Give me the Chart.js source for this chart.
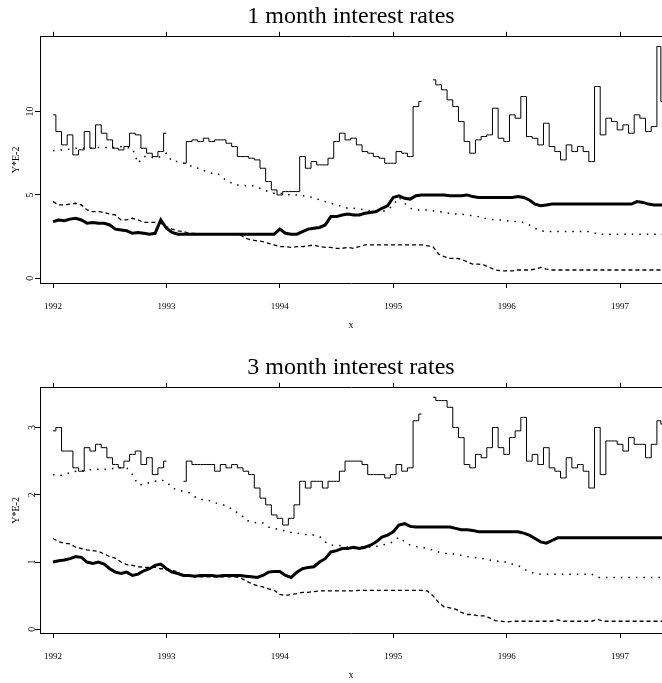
<!DOCTYPE html>
<html>
<head>
<meta charset="utf-8">
<script src="https://cdn.jsdelivr.net/npm/chart.js@4.4.0/dist/chart.umd.min.js"></script>
<style>
html, body { margin: 0; padding: 0; background: #fff; }
#wrap { position: relative; width: 662px; height: 683px; }
#chartOne { position: absolute; left: 0; top: 0; }
#chartThree { position: absolute; left: 0; top: 341px; }
</style>
</head>
<body>
<div id="wrap">
  <canvas id="chartOne" width="662" height="333"></canvas>
  <canvas id="chartThree" width="662" height="342"></canvas>
</div>
<script>
// dates in decimal years
var dates = [
  1992.00,1992.05,1992.10,1992.15,1992.20,1992.25,1992.30,1992.35,1992.40,1992.45,1992.50,1992.55,1992.60,1992.65,1992.70,1992.75,1992.80,1992.85,1992.90,1992.95,
  1993.00,1993.05,1993.10,1993.15,1993.20,1993.25,1993.30,1993.35,1993.40,1993.45,1993.50,1993.55,1993.60,1993.65,1993.70,1993.75,1993.80,1993.85,1993.90,1993.95,
  1994.00,1994.05,1994.10,1994.15,1994.20,1994.25,1994.30,1994.35,1994.40,1994.45,1994.50,1994.55,1994.60,1994.65,1994.70,1994.75,1994.80,1994.85,1994.90,1994.95,
  1995.00,1995.05,1995.10,1995.15,1995.20,1995.25,1995.30,1995.35,1995.40,1995.45,1995.50,1995.55,1995.60,1995.65,1995.70,1995.75,1995.80,1995.85,1995.90,1995.95,
  1996.00,1996.05,1996.10,1996.15,1996.20,1996.25,1996.30,1996.35,1996.40,1996.45,1996.50,1996.55,1996.60,1996.65,1996.70,1996.75,1996.80,1996.85,1996.90,1996.95,
  1997.00,1997.05,1997.10,1997.15,1997.20,1997.25,1997.30,1997.35,1997.37
];
var years = [1992, 1993, 1994, 1995, 1996, 1997];
var ticksOne = [0, 5, 10];
var ticksThree = [0, 1, 2, 3];

// 1 month
var oneThin = [
  9.8,8.8,8.0,8.6,7.4,7.7,8.8,7.8,9.2,8.7,8.3,7.8,7.7,7.9,8.7,8.6,7.8,7.5,7.3,7.6,
  8.7,null,null,6.9,8.2,8.3,8.2,8.4,8.2,8.3,8.3,8.1,7.9,7.3,7.3,7.2,7.1,6.6,5.8,5.3,
  5.0,5.2,5.2,5.2,7.3,6.6,7.0,6.8,6.8,7.2,8.2,8.7,8.3,8.4,8.0,7.6,7.5,7.3,7.2,6.9,
  6.9,7.6,7.5,7.3,10.3,10.6,null,11.9,11.6,11.3,10.7,10.3,9.4,8.2,7.5,8.3,8.5,8.6,10.2,8.4,
  8.2,9.8,9.6,10.9,8.5,8.4,8.0,9.3,7.9,7.6,7.1,8.0,7.6,7.9,7.6,7.0,11.5,8.6,9.6,9.4,
  8.9,9.2,8.7,9.8,9.6,8.8,9.1,13.9,10.6
];
var oneThick = [
  3.4,3.5,3.45,3.55,3.6,3.5,3.3,3.35,3.3,3.3,3.2,2.95,2.9,2.85,2.7,2.75,2.7,2.65,2.7,3.5,
  3.0,2.75,2.65,2.65,2.65,2.65,2.65,2.65,2.65,2.65,2.65,2.65,2.65,2.65,2.65,2.65,2.65,2.65,2.65,2.65,
  2.95,2.7,2.65,2.65,2.8,2.95,3.0,3.05,3.2,3.7,3.7,3.8,3.85,3.8,3.8,3.9,3.95,4.0,4.2,4.35,
  4.85,4.95,4.8,4.75,4.95,5.0,5.0,5.0,5.0,5.0,4.95,4.95,4.95,5.0,4.9,4.85,4.85,4.85,4.85,4.85,
  4.85,4.85,4.9,4.85,4.7,4.45,4.35,4.4,4.45,4.45,4.45,4.45,4.45,4.45,4.45,4.45,4.45,4.45,4.45,4.45,
  4.45,4.45,4.45,4.6,4.55,4.45,4.4,4.4,4.4
];
var oneDot = [
  7.65,7.7,7.7,7.75,7.8,7.8,7.8,7.8,7.85,7.85,7.85,7.85,7.9,7.85,7.8,6.9,7.3,7.3,7.2,7.3,
  7.5,7.0,7.0,6.9,6.8,6.6,6.6,6.4,6.3,6.3,6.0,5.8,5.6,5.6,5.55,5.55,5.5,5.3,5.2,5.1,
  5.1,5.05,5.0,5.0,4.95,4.9,4.85,4.7,4.6,4.5,4.4,4.3,4.2,4.2,4.15,4.1,4.05,4.0,4.0,4.1,
  4.4,4.85,4.5,4.2,4.1,4.1,4.1,4.05,4.0,3.95,3.9,3.85,3.85,3.8,3.75,3.7,3.6,3.55,3.5,3.5,
  3.45,3.4,3.4,3.35,3.2,3.0,2.85,2.8,2.8,2.8,2.8,2.8,2.8,2.8,2.8,2.8,2.65,2.65,2.65,2.65,
  2.65,2.65,2.65,2.65,2.65,2.65,2.65,2.65,2.65
];
var oneDash = [
  4.6,4.4,4.4,4.45,4.5,4.4,4.1,4.0,4.0,3.95,3.85,3.8,3.5,3.5,3.6,3.5,3.35,3.35,3.35,3.3,
  3.1,2.95,2.85,2.8,2.7,2.7,2.65,2.65,2.65,2.65,2.65,2.65,2.65,2.6,2.4,2.3,2.25,2.2,2.1,2.0,
  1.9,1.9,1.85,1.9,1.9,1.95,2.0,1.9,1.85,1.85,1.8,1.8,1.85,1.8,1.9,2.0,2.0,2.0,2.0,2.0,
  2.0,2.0,2.0,2.0,2.0,2.0,1.95,1.9,1.45,1.3,1.2,1.2,1.15,1.0,0.85,0.85,0.8,0.65,0.5,0.45,
  0.45,0.45,0.5,0.5,0.5,0.55,0.65,0.55,0.5,0.5,0.5,0.5,0.5,0.5,0.5,0.5,0.5,0.5,0.5,0.5,
  0.5,0.5,0.5,0.5,0.5,0.5,0.5,0.5,0.5
];

// 3 month
var threeThin = [
  2.95,3.0,2.65,2.65,2.4,2.35,2.7,2.65,2.75,2.7,2.55,2.45,2.4,2.5,2.6,2.65,2.45,2.55,2.3,2.4,
  2.5,null,null,2.2,2.5,2.45,2.45,2.45,2.45,2.35,2.45,2.4,2.45,2.4,2.35,2.3,2.1,1.95,1.85,1.7,
  1.65,1.55,1.65,1.85,2.2,2.1,2.2,2.2,2.1,2.2,2.2,2.35,2.5,2.5,2.5,2.45,2.3,2.3,2.3,2.25,
  2.3,2.45,2.35,2.4,3.1,3.2,null,3.45,3.4,3.4,3.3,3.0,2.85,2.45,2.4,2.6,2.55,2.7,3.0,2.7,
  2.6,2.85,2.95,3.15,2.5,2.6,2.45,2.7,2.4,2.35,2.25,2.55,2.4,2.45,2.35,2.1,3.0,2.3,2.8,2.8,
  2.75,2.65,2.85,2.75,2.75,2.55,2.75,3.1,3.05
];
var threeThick = [
  1.0,1.02,1.03,1.05,1.08,1.07,1.0,0.98,1.0,0.97,0.9,0.85,0.83,0.85,0.8,0.82,0.87,0.9,0.95,0.97,
  0.9,0.85,0.83,0.8,0.8,0.79,0.8,0.8,0.8,0.79,0.8,0.8,0.8,0.8,0.79,0.78,0.77,0.8,0.85,0.86,
  0.86,0.8,0.77,0.85,0.9,0.92,0.93,1.0,1.05,1.15,1.17,1.2,1.2,1.22,1.2,1.22,1.25,1.3,1.37,1.4,
  1.45,1.55,1.57,1.53,1.52,1.52,1.52,1.52,1.52,1.52,1.52,1.5,1.48,1.48,1.47,1.45,1.45,1.45,1.45,1.45,
  1.45,1.45,1.45,1.43,1.4,1.35,1.3,1.28,1.32,1.36,1.36,1.36,1.36,1.36,1.36,1.36,1.36,1.36,1.36,1.36,
  1.36,1.36,1.36,1.36,1.36,1.36,1.36,1.36,1.36
];
var threeDot = [
  2.3,2.28,2.3,2.33,2.35,2.35,2.37,2.37,2.38,2.38,2.38,2.4,2.4,2.4,2.3,2.15,2.15,2.18,2.2,2.22,
  2.2,2.1,2.07,2.05,2.03,1.97,1.93,1.93,1.9,1.87,1.85,1.82,1.75,1.72,1.62,1.6,1.58,1.58,1.52,1.5,
  1.48,1.46,1.44,1.43,1.42,1.4,1.4,1.38,1.3,1.25,1.25,1.24,1.22,1.2,1.22,1.22,1.22,1.23,1.25,1.27,
  1.3,1.37,1.3,1.25,1.23,1.22,1.2,1.18,1.15,1.13,1.12,1.12,1.1,1.08,1.07,1.06,1.05,1.03,1.02,1.0,
  1.0,0.97,0.95,0.9,0.85,0.83,0.82,0.82,0.82,0.82,0.82,0.82,0.82,0.82,0.82,0.82,0.77,0.77,0.77,0.77,
  0.77,0.77,0.77,0.77,0.77,0.77,0.77,0.77,0.77
];
var threeDash = [
  1.35,1.3,1.28,1.27,1.22,1.2,1.18,1.17,1.16,1.12,1.08,1.06,1.0,0.96,0.95,0.93,0.92,0.92,0.92,0.9,
  0.9,0.88,0.85,0.8,0.8,0.78,0.78,0.78,0.78,0.78,0.78,0.78,0.78,0.77,0.72,0.68,0.65,0.63,0.6,0.58,
  0.52,0.5,0.52,0.53,0.55,0.55,0.56,0.57,0.57,0.57,0.57,0.57,0.57,0.57,0.58,0.58,0.58,0.58,0.58,0.58,
  0.58,0.58,0.58,0.58,0.58,0.58,0.57,0.5,0.4,0.33,0.32,0.3,0.25,0.22,0.22,0.2,0.2,0.17,0.13,0.12,
  0.11,0.12,0.12,0.12,0.12,0.12,0.12,0.12,0.12,0.14,0.12,0.12,0.12,0.12,0.12,0.12,0.15,0.12,0.12,0.12,
  0.12,0.12,0.12,0.12,0.12,0.12,0.12,0.12,0.12
];

var serif = 'Liberation Serif';

function points(values) {
  return dates.map(function (d, i) { return { x: d, y: values[i] }; });
}

function setTicks(list) {
  return function (scale) {
    scale.ticks = list.map(function (v) { return { value: v }; });
  };
}

function drawChart(id, title, yMin, yMax, yTicks, thin, thick, dot, dash, padTop) {
  new Chart(document.getElementById(id), {
    type: 'line',
    data: {
      datasets: [
        { data: points(thin), borderWidth: 1, stepped: 'middle' },
        { data: points(thick), borderWidth: 3 },
        { data: points(dot), borderWidth: 1.5, borderDash: [1.5, 6] },
        { data: points(dash), borderWidth: 1.3, borderDash: [4, 3] }
      ]
    },
    options: {
      responsive: false,
      animation: false,
      layout: { padding: { top: padTop, left: 0, right: 0, bottom: 0 } },
      elements: {
        point: { radius: 0 },
        line: { tension: 0, borderColor: '#000', fill: false, borderCapStyle: 'butt' }
      },
      plugins: {
        legend: { display: false },
        tooltip: { enabled: false },
        title: {
          display: true, text: title, fullSize: false, color: '#000',
          font: { family: serif, size: 24, weight: 'normal' },
          padding: { top: 2, bottom: 0 }
        }
      },
      scales: {
        x: {
          type: 'linear', position: 'bottom', min: 1991.885, max: 1997.37,
          afterBuildTicks: setTicks(years),
          afterFit: function (s) { s.height = 50; },
          ticks: {
            autoSkip: false, maxRotation: 0, padding: 13, color: '#000',
            font: { family: serif, size: 9 },
            callback: function (v) { return String(v); }
          },
          grid: { drawOnChartArea: false, tickLength: 5, color: '#000' },
          border: { color: '#000', width: 1 },
          title: { display: true, text: 'x', color: '#000', font: { family: serif, size: 10 }, padding: { top: 0, bottom: 1.5 } }
        },
        x2: {
          type: 'linear', position: 'top', min: 1991.885, max: 1997.37,
          afterBuildTicks: setTicks(years),
          afterFit: function (s) { s.height = 6; },
          ticks: { display: false, autoSkip: false },
          grid: { drawOnChartArea: false, tickLength: 5, color: '#000' },
          border: { color: '#000', width: 1 }
        },
        y: {
          position: 'left', min: yMin, max: yMax,
          afterBuildTicks: setTicks(yTicks),
          afterFit: function (s) { s.width = 40; },
          ticks: {
            minRotation: 90, maxRotation: 90, crossAlign: 'center', padding: 0, color: '#000',
            font: { family: serif, size: 10 },
            callback: function (v) { return String(v); }
          },
          grid: { drawOnChartArea: false, tickLength: 5, color: '#000' },
          border: { color: '#000', width: 1 },
          title: { display: true, text: 'Y*E-2', color: '#000', font: { family: serif, size: 10 }, padding: { top: 10.5, bottom: 0 } }
        }
      }
    }
  });
}

drawChart('chartOne', '1 month interest rates', -0.28, 14.48, ticksOne, oneThin, oneThick, oneDot, oneDash, 0);
drawChart('chartThree', '3 month interest rates', -0.055, 3.59, ticksThree, threeThin, threeThick, threeDot, threeDash, 10);
</script>
</body>
</html>
